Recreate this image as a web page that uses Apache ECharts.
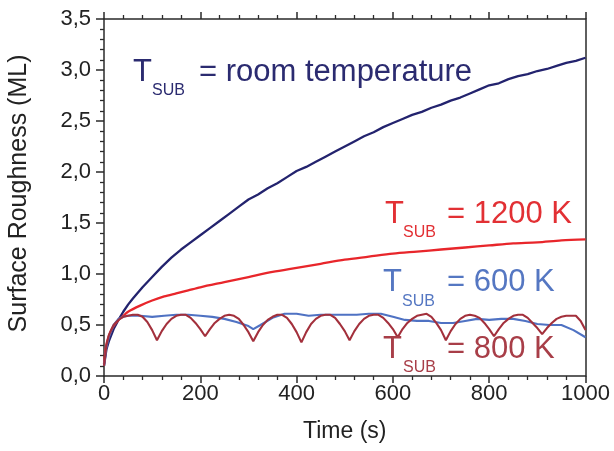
<!DOCTYPE html>
<html>
<head>
<meta charset="utf-8" />
<title>Surface roughness</title>
<script src="https://cdn.jsdelivr.net/npm/echarts@6/dist/echarts.min.js"></script>
<style>
html, body { margin: 0; padding: 0; background: #fff; }
#chart { width: 614px; height: 451px; }
</style>
</head>
<body>
<div id="chart"></div>
<script>
// values (time in s, roughness in ML)
var timeRoom = [0,5,10,20,30,40,50,60,80,100,120,140,160,180,200,220,240,260,280,300,320,340,360,380,400,420,440,460,480,500,520,540,560,580,600,620,640,660,680,700,720,740,760,780,800,820,840,860,880,900,920,940,960,980,1000];
var roughRoom = [0.10,0.26,0.34,0.46,0.55,0.63,0.70,0.76,0.87,0.97,1.07,1.16,1.24,1.31,1.38,1.45,1.52,1.59,1.66,1.73,1.78,1.84,1.89,1.95,2.01,2.05,2.10,2.15,2.20,2.25,2.30,2.35,2.39,2.44,2.48,2.52,2.56,2.59,2.63,2.66,2.70,2.73,2.77,2.81,2.85,2.87,2.91,2.94,2.96,2.99,3.01,3.04,3.07,3.09,3.12];

var time1200 = [0,3,6,10,15,20,30,40,50,75,100,125,150,175,200,250,300,350,400,450,500,550,600,650,700,750,800,850,900,950,1000];
var rough1200 = [0.12,0.25,0.33,0.39,0.45,0.49,0.55,0.59,0.63,0.69,0.74,0.78,0.81,0.84,0.87,0.92,0.97,1.02,1.06,1.10,1.14,1.17,1.20,1.22,1.24,1.26,1.28,1.30,1.31,1.33,1.34];

var time600 = [0,5,10,20,30,40,50,75,100,125,150,175,200,225,250,275,300,310,325,350,375,400,425,450,475,500,525,550,575,600,625,650,675,700,725,750,775,800,825,850,875,900,925,950,975,1000];
var rough600 = [0.10,0.28,0.38,0.50,0.56,0.58,0.59,0.59,0.58,0.59,0.60,0.60,0.59,0.58,0.56,0.53,0.49,0.46,0.50,0.57,0.61,0.61,0.59,0.60,0.60,0.60,0.60,0.61,0.61,0.58,0.55,0.54,0.54,0.52,0.52,0.54,0.56,0.55,0.56,0.56,0.54,0.51,0.50,0.50,0.45,0.38];

var time800 = [0,5,10,20,30,40,50,60,70,80,90,100,110,120,130,140,150,160,170,180,190,200,210,220,230,240,250,260,270,280,290,300,310,320,330,340,350,360,370,380,390,400,410,420,430,440,450,460,470,480,490,500,510,520,530,540,550,560,570,580,590,600,610,620,630,640,650,660,670,680,690,700,710,720,730,740,750,760,770,780,790,800,810,820,830,840,850,860,870,880,890,900,910,920,930,940,950,960,970,980,990,1000];
var rough800 = [0.10,0.30,0.40,0.50,0.55,0.58,0.59,0.60,0.60,0.58,0.53,0.45,0.35,
  0.44,0.51,0.56,0.59,0.60,0.60,0.57,0.52,0.46,0.39,
  0.46,0.52,0.56,0.59,0.60,0.59,0.56,0.50,0.43,0.34,
  0.43,0.50,0.55,0.58,0.60,0.60,0.57,0.51,0.43,0.33,
  0.43,0.51,0.56,0.59,0.60,0.60,0.57,0.51,0.44,0.35,
  0.44,0.51,0.56,0.59,0.60,0.60,0.57,0.52,0.46,0.38,
  0.46,0.52,0.56,0.59,0.60,0.61,0.58,0.52,0.45,0.35,
  0.44,0.51,0.56,0.59,0.60,0.59,0.57,0.52,0.46,0.39,
  0.46,0.52,0.56,0.59,0.60,0.60,0.57,0.52,0.47,0.41,
  0.47,0.52,0.56,0.58,0.59,0.59,0.59,0.54,0.45];

var xTickLabels = ['0','200','400','600','800','1000'];
var yTickLabels = ['0,0','0,5','1,0','1,5','2,0','2,5','3,0','3,5'];

function pairs(xs, ys) {
  var out = [];
  for (var i = 0; i < xs.length; i++) out.push([xs[i], ys[i]]);
  return out;
}

var font = 'Liberation Sans, Arial, sans-serif';
var axisColor = '#2a2a2a';
var navy = '#23236e', red = '#e8262b', blue = '#4f72c3', wine = '#a3303c';

function label(text, x, y, size, color) {
  return {
    type: 'text', x: x, y: y, z: 100,
    style: { text: text, font: size + 'px ' + font, fill: color, textVerticalAlign: 'middle' }
  };
}

function ticks(len) {
  return { show: true, inside: false, length: len, lineStyle: { color: axisColor, width: 1.5 } };
}
function minor() {
  return { show: true, splitNumber: 5, length: 4, lineStyle: { color: axisColor, width: 1.3 } };
}

var chart = echarts.init(document.getElementById('chart'));
chart.setOption({
  backgroundColor: '#fff',
  animation: false,
  grid: { left: 104, right: 28.5, top: 19, bottom: 75, outerBoundsMode: 'none' },
  xAxis: [{
    type: 'value', min: 0, max: 1000, interval: 200, position: 'bottom',
    name: 'Time (s)', nameLocation: 'middle', nameGap: 44,
    nameTextStyle: { fontFamily: font, fontSize: 23, color: '#222' },
    axisLine: { show: true, onZero: false, lineStyle: { color: axisColor, width: 1.5 } },
    axisTick: ticks(7),
    minorTick: minor(),
    splitLine: { show: false },
    axisLabel: { fontFamily: font, fontSize: 22, color: '#222', margin: 7,
      formatter: function (v) { return xTickLabels[Math.round(v / 200)]; } }
  }, {
    type: 'value', position: 'top', min: 0, max: 1000, interval: 200,
    axisLine: { show: true, onZero: false, lineStyle: { color: axisColor, width: 1.5 } },
    axisTick: ticks(7),
    minorTick: minor(),
    splitLine: { show: false },
    axisLabel: { show: false }
  }],
  yAxis: [{
    type: 'value', min: 0, max: 3.5, interval: 0.5,
    name: 'Surface Roughness (ML)', nameLocation: 'middle', nameGap: 72,
    nameTextStyle: { fontFamily: font, fontSize: 25, color: '#222', padding: [0, 0, 0, 8] },
    axisLine: { show: true, onZero: false, lineStyle: { color: axisColor, width: 1.5 } },
    axisTick: ticks(8),
    minorTick: minor(),
    splitLine: { show: false },
    axisLabel: { fontFamily: font, fontSize: 22, color: '#222', margin: 13,
      formatter: function (v) { return yTickLabels[Math.round(v / 0.5)]; } }
  }, {
    type: 'value', position: 'right', min: 0, max: 3.5, interval: 0.5,
    axisLine: { show: true, onZero: false, lineStyle: { color: axisColor, width: 1.5 } },
    axisTick: { show: false }, axisLabel: { show: false }, splitLine: { show: false }
  }],
  series: [
    { type: 'line', name: 'room temperature', data: pairs(timeRoom, roughRoom), showSymbol: false,
      lineStyle: { color: navy, width: 2.3 } },
    { type: 'line', name: '1200 K', data: pairs(time1200, rough1200), showSymbol: false, smooth: 0.3,
      lineStyle: { color: red, width: 2.3 } },
    { type: 'line', name: '600 K', data: pairs(time600, rough600), showSymbol: false,
      lineStyle: { color: blue, width: 2.1 } },
    { type: 'line', name: '800 K', data: pairs(time800, rough800), showSymbol: false,
      lineStyle: { color: wine, width: 2.1 } }
  ],
  graphic: [
    label('T', 133, 72, 31, '#2b2b70'),
    label('SUB', 152, 90.5, 16, '#2b2b70'),
    label('= room temperature', 199, 72, 31, '#2b2b70'),
    label('T', 385, 214, 31, '#e23034'),
    label('SUB', 403, 233, 16, '#e23034'),
    label('= 1200 K', 447, 214, 31, '#e23034'),
    label('T', 383, 282, 31, '#5577c2'),
    label('SUB', 402, 301.5, 16, '#5577c2'),
    label('= 600 K', 447, 282, 31, '#5577c2'),
    label('T', 383, 349, 31, '#a83e48'),
    label('SUB', 403, 367.5, 16, '#a83e48'),
    label('= 800 K', 447, 349, 31, '#a83e48')
  ]
});
</script>
</body>
</html>
